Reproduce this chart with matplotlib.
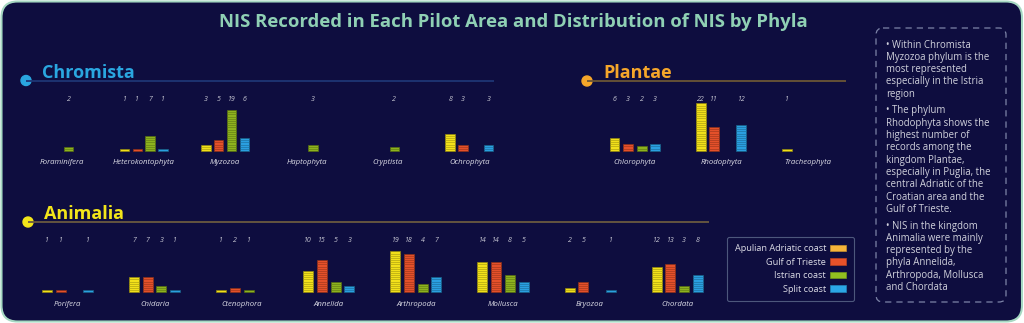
import matplotlib
matplotlib.use("Agg")
import matplotlib.pyplot as plt
import matplotlib.colors as mcolors
from matplotlib.patches import FancyBboxPatch, Circle, Patch

plt.rcParams['font.family'] = ['Open Sans', 'DejaVu Sans']

W, H = 1024, 323
NAVY = "#0e0d3f"

# data
coasts = ["Apulian Adriatic coast", "Gulf of Trieste", "Istrian coast", "Split coast"]
bar_colors = ["#f2e01a", "#e4502a", "#8db21e", "#2a9fe0"]
legend_colors = ["#f6b43a", "#e8522a", "#92bf20", "#2ba6e6"]

chromista_phyla = ["Foraminifera", "Heterokontophyta", "Myzozoa",
                   "Haptophyta", "Cryptista", "Ochrophyta"]
chromista_values = [[0, 0, 2, 0], [1, 1, 7, 1], [3, 5, 19, 6],
                    [0, 0, 3, 0], [0, 0, 2, 0], [8, 3, 0, 3]]

plantae_phyla = ["Chlorophyta", "Rhodophyta", "Tracheophyta"]
plantae_values = [[6, 3, 2, 3], [22, 11, 0, 12], [1, 0, 0, 0]]

animalia_phyla = ["Porifera", "Cnidaria", "Ctenophora", "Annelida",
                  "Arthropoda", "Mollusca", "Bryozoa", "Chordata"]
animalia_values = [[1, 1, 0, 1], [7, 7, 3, 1], [1, 2, 1, 0], [10, 15, 5, 3],
                   [19, 18, 4, 7], [14, 14, 8, 5], [2, 5, 0, 1], [12, 13, 3, 8]]

notes = [
    "\u2022 Within Chromista\nMyzozoa phylum is the\nmost represented\nespecially in the Istria\nregion",
    "\u2022 The phylum\nRhodophyta shows the\nhighest number of\nrecords among the\nkingdom Plantae,\nespecially in Puglia, the\ncentral Adriatic of the\nCroatian area and the\nGulf of Trieste.",
    "\u2022 NIS in the kingdom\nAnimalia were mainly\nrepresented by the\nphyla Annelida,\nArthropoda, Mollusca\nand Chordata",
]


def dark(c, f=0.6):
    r, g, b = mcolors.to_rgb(c)
    return (r * f, g * f, b * f)


fig = plt.figure(figsize=(W / 100, H / 100), dpi=100, facecolor="white")

# background layer in pixel coordinates
bg = fig.add_axes([0, 0, 1, 1])
bg.set_xlim(0, W)
bg.set_ylim(H, 0)
bg.axis("off")
bg.add_patch(FancyBboxPatch((1.5, 1.5), W - 3.5, H - 3, boxstyle="round,pad=0,rounding_size=16",
                            facecolor=NAVY, edgecolor="#a6d8c2", linewidth=1.5))
bg.text(513, 22, "NIS Recorded in Each Pilot Area and Distribution of NIS by Phyla",
        ha="center", va="center", fontsize=13.3, fontweight="bold", color="#8fd0b4")

# section headers
headers = [("Chromista", "#2aa6e0", "#1e3575", 26, 80.5, 494),
           ("Plantae", "#f5a62a", "#6b5636", 587, 81, 846),
           ("Animalia", "#f2e51a", "#6b5a40", 28, 222, 709)]
for name, col, lcol, x, y, x_end in headers:
    bg.plot([x, x_end], [y, y], color=lcol, linewidth=1.3, solid_capstyle="butt")
    bg.add_patch(Circle((x, y), 5, color=col))
    bg.text(x + 16, y - 3, name, ha="left", va="baseline", fontsize=13,
            fontweight="bold", color=col)

# notes box
bg.add_patch(FancyBboxPatch((876, 28), 130, 274, boxstyle="round,pad=0,rounding_size=7",
                            facecolor="none", edgecolor="#7d84a8", linewidth=0.9,
                            linestyle=(0, (5, 4))))
for txt, ytop in zip(notes, [39.5, 105.5, 220.5]):
    bg.text(886.5, ytop, txt, ha="left", va="top", fontsize=6.9,
            color="#d0d1dc", linespacing=1.165)

UNIT = 2.15  # pixels per record
YMIN, YMAX = -8, 27
SLOT = 0.157
BAR_W = 0.115


def section_axes(x_first, step, n, base_y):
    left = x_first - 0.5 * step
    bottom_px = base_y - YMIN * UNIT
    top_px = base_y - YMAX * UNIT
    ax = fig.add_axes([left / W, 1 - bottom_px / H, n * step / W, (bottom_px - top_px) / H])
    ax.set_xlim(-0.5, n - 0.5)
    ax.set_ylim(YMIN, YMAX)
    ax.axis("off")
    return ax


def draw_phyla(ax, names, values):
    for i, (name, vals) in enumerate(zip(names, values)):
        for j, v in enumerate(vals):
            if v == 0:
                continue
            x = i + (j - 1.5) * SLOT
            ax.bar(x, v, width=BAR_W, color=bar_colors[j],
                   edgecolor=dark(bar_colors[j]), linewidth=0.5)
            if v > 1:
                ax.hlines(range(1, v), x - BAR_W / 2, x + BAR_W / 2,
                          colors=[dark(bar_colors[j], 0.7)], linewidth=0.45)
            ax.text(x, 24, str(v), ha="center", va="center", fontsize=5,
                    style="italic", color="#c8c8d4")
        ax.text(i, -5.5, name, ha="center", va="center", fontsize=5.6,
                style="italic", color="#dcdce6")


draw_phyla(section_axes(62.3, 81.4, 6, 151), chromista_phyla, chromista_values)
draw_phyla(section_axes(634.8, 86.3, 3, 150.7), plantae_phyla, plantae_values)
draw_phyla(section_axes(67.5, 87.1, 8, 292.3), animalia_phyla, animalia_values)

handles = [Patch(facecolor=c, edgecolor=dark(c, 0.8), linewidth=0.5) for c in legend_colors]
leg = fig.legend(handles, coasts, loc="center",
                 bbox_to_anchor=(790.5 / W, 1 - 269 / H), markerfirst=False,
                 fontsize=6.6, frameon=True, fancybox=True, facecolor=NAVY,
                 edgecolor="#5d6a8c", labelcolor="#dcdce6", handlelength=1.8,
                 handleheight=0.75, labelspacing=0.5, borderpad=0.8, handletextpad=0.4)
leg.get_frame().set_linewidth(0.8)

fig.savefig("out.png", dpi=100, facecolor="white")
